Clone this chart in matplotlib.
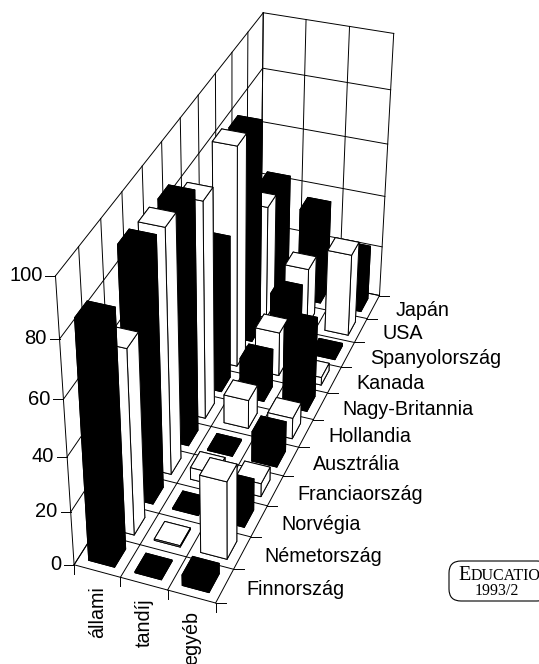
import numpy as np
import matplotlib
matplotlib.use('Agg')
import matplotlib.pyplot as plt
from matplotlib.patches import FancyBboxPatch

countries = ['Finnország', 'Németország', 'Norvégia', 'Franciaország', 'Ausztrália', 'Hollandia',
             'Nagy-Britannia', 'Kanada', 'Spanyolország', 'USA', 'Japán']
sources = ['állami', 'tandíj', 'egyéb']
allami = [85.5, 67.5, 90.5, 89, 88, 80.5, 54.5, 83, 80, 44, 43]
tandij = [0.5, 0.5, 0.5, 4.5, 0.5, 11, 15, 17, 21, 23, 36]
egyeb = [4, 29, 12, 5, 11.5, 8, 31, 3, 1, 32, 21.5]
colors = ['black', 'white'] * 5 + ['black']
z_ticks = [0, 20, 40, 60, 80, 100]

# picture pixels of known chart points, used to fit the perspective camera
world = np.array([[0, 11, 100], [3, 11, 100], [0, 0, 100], [0, 0, 0], [3, 0, 0], [3, 11, 0],
                  [0, 11, 80], [3, 11, 80], [0, 0, 80], [0, 0, 60], [0, 0, 40], [0, 0, 20],
                  [3, 11, 60], [3, 11, 40], [3, 11, 20], [1, 11, 100], [2, 11, 100], [1, 0, 0], [2, 0, 0]], float)
pix = np.array([[263, 13], [394, 33], [56, 276], [74, 565], [216, 603], [380, 295],
                [263, 68], [391, 90], [59, 338], [63, 400], [68, 457], [71, 512],
                [388, 144], [384, 197], [382, 247], [306, 19], [349, 27], [120, 577], [167, 590]], float)

rows = []
for (X, Y, Z), (u, v) in zip(world, pix):
    rows.append([X, Y, Z, 1, 0, 0, 0, 0, -u * X, -u * Y, -u * Z, -u])
    rows.append([0, 0, 0, 0, X, Y, Z, 1, -v * X, -v * Y, -v * Z, -v])
P = np.linalg.svd(np.array(rows))[2][-1].reshape(3, 4)
if P[2] @ [0, 0, 0, 1] < 0:
    P = -P


def to_pixel(x, y, z):
    h = P @ [x, y, z, 1]
    return h[0] / h[2], h[1] / h[2]


fig = plt.figure(figsize=(5.39, 6.64), dpi=100)
ax = fig.add_axes([0, 0, 1, 1], projection='3d', computed_zorder=False)
ax.set_axis_off()
ax.apply_aspect = lambda position=None: None


def get_proj():
    inv = ax.transData.inverted()
    x0, y0 = inv.transform((0, 664))
    x1, y1 = inv.transform((539, 0))
    M = np.zeros((4, 4))
    M[0] = (x1 - x0) / 539 * P[0] + x0 * P[2]
    M[1] = (y1 - y0) / 664 * P[1] + y0 * P[2]
    M[2, 3] = -1
    M[3] = P[2]
    return M


ax.get_proj = get_proj

lw = 0.7
# walls and floor
for k in range(12):
    ax.plot([0, 0], [k, k], [0, 100], 'k', lw=lw, zorder=1)
    ax.plot([0, 3], [k, k], [0, 0], 'k', lw=lw, zorder=1)
for i in range(4):
    ax.plot([i, i], [11, 11], [0, 100], 'k', lw=lw, zorder=1)
    ax.plot([i, i], [0, 11], [0, 0], 'k', lw=lw, zorder=1)
for z in z_ticks:
    ax.plot([0, 0], [0, 11], [z, z], 'k', lw=lw, zorder=1)
    ax.plot([0, 3], [11, 11], [z, z], 'k', lw=lw, zorder=1)

# bars, painted from the back row to the front
values = [allami, tandij, egyeb]
order = 2
for k in range(len(countries) - 1, -1, -1):
    for i in range(3):
        b = ax.bar3d(i + 0.22, k + 0.22, 0, 0.56, 0.56, values[i][k], color=colors[k],
                     edgecolor='black', linewidth=lw, shade=False, zorder=order)
        order += 1

over = fig.add_axes([0, 0, 1, 1], zorder=10)
over.set_xlim(0, 539)
over.set_ylim(664, 0)
over.axis('off')

font = 'Liberation Sans'
for z in z_ticks:
    u, v = to_pixel(0, 0, z)
    over.plot([u - 10, u], [v, v], 'k', lw=lw)
    over.text(u - 13, v, str(z), ha='right', va='center', fontsize=14.5, family=font)
for k in range(12):
    u, v = to_pixel(3, k, 0)
    over.plot([u, u + 10], [v, v], 'k', lw=lw)
for k, name in enumerate(countries):
    u, v = to_pixel(3, k + 0.5, 0)
    over.text(u + 22, v + 3.5, name, ha='left', va='center', fontsize=14.2, family=font)
for i in range(4):
    u, v = to_pixel(i, 0, 0)
    over.plot([u, u], [v, v + 9], 'k', lw=lw)
for i, name in enumerate(sources):
    u, v = to_pixel(i + 0.5, 0, 0)
    over.text(u, v + 15, name, ha='center', va='top', rotation=90, fontsize=14.2, family=font)

box = FancyBboxPatch((454, 566), 90, 30, boxstyle='round,pad=5,rounding_size=12', fc='white', ec='black', lw=0.8)
over.add_patch(box)
over.text(470.5, 575, 'E', ha='right', va='center', fontsize=14.5, family='Liberation Serif')
over.text(470.5, 575.5, 'DUCATIO', ha='left', va='center', fontsize=11.5, family='Liberation Serif')
over.text(497, 591, '1993/2', ha='center', va='center', fontsize=11.5, family='Liberation Serif')

fig.savefig('out.png', dpi=100)
